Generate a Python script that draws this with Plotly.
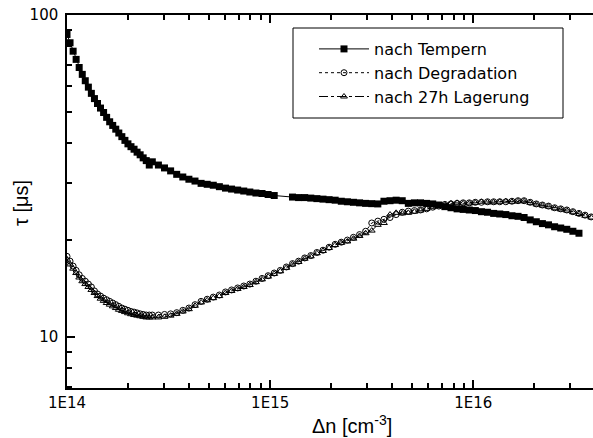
import plotly.graph_objects as go

# Excess carrier density grid [cm^-3] (denser at low injection)
dn = [1.000e14, 1.035e14, 1.072e14, 1.109e14, 1.148e14, 1.189e14, 1.230e14, 1.274e14, 1.318e14, 1.365e14,
      1.413e14, 1.462e14, 1.514e14, 1.567e14, 1.622e14, 1.679e14, 1.738e14, 1.799e14, 1.862e14, 1.928e14,
      1.995e14, 2.065e14, 2.138e14, 2.213e14, 2.291e14, 2.371e14, 2.455e14, 2.541e14, 2.630e14,
      2.818e14, 3.020e14, 3.236e14, 3.467e14, 3.715e14,
      3.981e14, 4.266e14, 4.571e14, 4.898e14, 5.248e14, 5.623e14, 6.026e14, 6.457e14, 6.918e14, 7.413e14,
      7.943e14, 8.511e14, 9.120e14, 9.772e14, 1.047e15, 1.122e15, 1.202e15, 1.288e15, 1.380e15, 1.479e15,
      1.585e15, 1.698e15, 1.820e15, 1.950e15, 2.089e15, 2.239e15, 2.399e15, 2.570e15, 2.754e15, 2.951e15,
      3.162e15, 3.388e15, 3.631e15, 3.890e15, 4.169e15, 4.467e15, 4.786e15, 5.129e15, 5.495e15, 5.888e15,
      6.310e15, 6.761e15, 7.244e15, 7.762e15, 8.318e15, 8.913e15, 9.550e15, 1.023e16, 1.096e16, 1.175e16,
      1.259e16, 1.349e16, 1.445e16, 1.549e16, 1.660e16, 1.778e16, 1.905e16, 2.042e16, 2.188e16, 2.344e16,
      2.512e16, 2.692e16, 2.884e16, 3.090e16, 3.311e16, 3.548e16, 3.802e16]

tau_tempern = [87.0, 82.0, 77.2, 72.8, 68.7, 65.4, 62.5, 59.7, 57.1, 55.0,
               53.1, 51.4, 49.8, 48.1, 46.6, 45.4, 44.2, 43.0, 41.9, 40.8,
               39.8, 39.0, 38.3, 37.5, 36.8, 36.0, 35.3, 34.2, 35.0,
               34.2, 33.5, 32.8, 32.0, 31.4,
               30.9, 30.5, 30.0, 29.8, 29.6, 29.3, 29.0, 28.8, 28.6, 28.4,
               28.2, 28.0, 27.9, 27.7, 27.5, None, None, 27.2, 27.1, 27.1,
               27.0, 26.9, 26.8, 26.7, 26.6, 26.4, 26.3, 26.2, 26.1, 26.0,
               25.95, 25.9, 26.4, 26.5, 26.6, 26.5, 26.0, 26.1, 26.1, 26.0,
               25.9, 25.7, 25.4, 25.2, 25.0, 24.9, 24.8, 24.7, 24.5, 24.4,
               24.2, 24.1, 24.0, 23.8, 23.7, 23.5, 23.1, 22.8, 22.5, 22.3,
               22.0, 21.8, 21.6, 21.3, 21.0]

tau_degradation = [17.8, 17.2, 16.6, 16.1, 15.6, 15.2, 14.9, 14.6, 14.3, 13.9,
                   13.6, 13.4, 13.2, 13.05, 12.9, 12.75, 12.6, 12.45, 12.3, 12.2,
                   12.1, 12.0, 11.95, 11.88, 11.8, 11.75, 11.7, 11.7, 11.7,
                   11.7, 11.75, 11.8, 11.9, 12.1,
                   12.3, 12.6, 12.9, 13.1, 13.3, 13.5, 13.8, 14.0, 14.2, 14.4,
                   14.6, 14.9, 15.2, 15.5, 15.8, 16.1, 16.5, 16.9, 17.2, 17.6,
                   17.9, 18.3, 18.6, 19.0, 19.4, 19.7, 20.0, 20.4, 20.8, 21.3,
                   22.6, 22.9, 23.2, 23.5, 24.0, 24.4, 24.6, 24.7, 24.8, 25.0,
                   25.3, 25.5, 25.8, 25.9, 26.0, 26.1, 26.1, 26.2, 26.2, 26.3,
                   26.3, 26.3, 26.3, 26.4, 26.5, 26.5, 26.2, 25.9, 25.7, 25.5,
                   25.2, 25.0, 24.8, 24.5, 24.2, 23.9, 23.6]

tau_lagerung = [17.4, 16.8, 16.3, 15.8, 15.3, 14.9, 14.6, 14.3, 14.0, 13.7,
                13.4, 13.15, 12.95, 12.75, 12.6, 12.45, 12.3, 12.15, 12.05, 11.95,
                11.85, 11.77, 11.7, 11.65, 11.6, 11.55, 11.5, 11.5, 11.5,
                11.5, 11.55, 11.65, 11.8, 12.0,
                12.2, 12.5, 12.8, 13.0, 13.2, 13.4, 13.7, 13.9, 14.1, 14.3,
                14.5, 14.8, 15.1, 15.4, 15.7, 16.0, 16.4, 16.8, 17.1, 17.5,
                17.8, 18.2, 18.5, 18.9, 19.3, 19.6, 19.8, 20.2, 20.6, 21.0,
                21.4, 22.3, 22.6, 24.0, 24.3, 24.2, 24.3, 24.5, 24.7, 25.0,
                25.3, 25.6, 25.8, 26.0, 26.1, 26.0, 26.0, 26.1, 26.3, 26.2,
                26.2, 26.3, 26.4, 26.3, 26.4, 26.4, 26.1, 25.8, 25.6, 25.4,
                25.1, 24.9, 24.7, 24.4, 24.1, 23.8, 23.5]

names = ["nach Tempern", "nach Degradation", "nach 27h Lagerung"]

x_major = [1e14, 1e15, 1e16]
x_major_text = ["1E14", "1E15", "1E16"]
y_major = [10, 100]
y_major_text = ["10", "100"]

x_minor = [m * 10 ** e for e in (14, 15, 16) for m in range(2, 10)]
y_minor = [7, 8, 9, 20, 30, 40, 50, 60, 70, 80, 90]

X_RANGE = [14, 16.589]
Y_RANGE = [0.8416, 2]

fig = go.Figure()
fig.add_trace(go.Scatter(
    x=dn[:len(tau_tempern)], y=tau_tempern, name=names[0], mode="lines+markers",
    connectgaps=True,
    line=dict(color="black", width=1, dash="solid"),
    marker=dict(symbol="square", size=7, color="black", line=dict(width=0))))
fig.add_trace(go.Scatter(
    x=dn[:len(tau_degradation)], y=tau_degradation, name=names[1], mode="lines+markers",
    line=dict(color="black", width=1, dash="dot"),
    marker=dict(symbol="circle-open", size=6, color="black", line=dict(width=1))))
fig.add_trace(go.Scatter(
    x=dn[:len(tau_lagerung)], y=tau_lagerung, name=names[2], mode="lines+markers",
    line=dict(color="black", width=1, dash="dashdot"),
    marker=dict(symbol="triangle-up-open", size=6, color="black", line=dict(width=1))))
# invisible helper trace so that the minor-tick overlay axes get drawn
fig.add_trace(go.Scatter(x=[x_major[1]], y=[y_major[0]], xaxis="x2", yaxis="y2",
                         showlegend=False, hoverinfo="skip", mode="markers",
                         marker=dict(size=1, opacity=0)))

L, T, B, W, H = 67, 15, 50, 593, 438
pw, ph = W - L, H - T - B

def px(xp):
    return (xp - L) / pw

def py(yp):
    return (H - B - yp) / ph

axis_font = dict(family="DejaVu Sans", size=15, color="black")

fig.update_layout(
    width=W, height=H,
    margin=dict(l=L, r=0, t=T, b=B, pad=0),
    paper_bgcolor="white", plot_bgcolor="white",
    showlegend=True,
    legend=dict(x=px(314), y=py(32), xanchor="left", yanchor="top",
                bgcolor="rgba(0,0,0,0)", borderwidth=0,
                font=dict(family="DejaVu Sans", size=16, color="black"),
                itemwidth=50, tracegroupgap=0),
    xaxis=dict(type="log", range=X_RANGE, showgrid=False, zeroline=False,
               showline=True, linecolor="black", linewidth=1.5, mirror="ticks",
               ticks="inside", ticklen=8, tickwidth=1.5, tickcolor="black",
               tickmode="array", tickvals=x_major, ticktext=x_major_text, tickfont=axis_font),
    yaxis=dict(type="log", range=Y_RANGE, showgrid=False, zeroline=False,
               showline=True, linecolor="black", linewidth=1.5, mirror=False,
               ticks="inside", ticklen=8, tickwidth=1.5, tickcolor="black",
               tickmode="array", tickvals=y_major, ticktext=y_major_text, tickfont=axis_font,
               ticklabelstandoff=4),
    xaxis2=dict(type="log", range=X_RANGE, overlaying="x", anchor="y2", side="bottom",
                showgrid=False, zeroline=False, showline=False, mirror="ticks",
                ticks="inside", ticklen=5, tickwidth=1.5, tickcolor="black",
                tickmode="array", tickvals=x_minor, showticklabels=False),
    yaxis2=dict(type="log", range=Y_RANGE, overlaying="y", anchor="x2", side="left",
                showgrid=False, zeroline=False, showline=False,
                ticks="inside", ticklen=5, tickwidth=1.5, tickcolor="black",
                tickmode="array", tickvals=y_minor, showticklabels=False),
    shapes=[dict(type="rect", xref="paper", yref="paper",
                 x0=px(293), x1=px(563), y0=py(118), y1=py(28),
                 line=dict(color="black", width=1), fillcolor="rgba(0,0,0,0)")],
    annotations=[
        dict(text="Δn [cm<sup>-3</sup>]", xref="paper", yref="paper",
             x=px(352), y=py(424), xanchor="center", yanchor="middle", showarrow=False,
             font=dict(family="Liberation Sans", size=20, color="black")),
        dict(text="τ [μs]", xref="paper", yref="paper", textangle=-90,
             x=px(21), y=py(203), xanchor="center", yanchor="middle", showarrow=False,
             font=dict(family="Liberation Sans", size=20, color="black")),
    ],
)

fig.write_html("out.html")
